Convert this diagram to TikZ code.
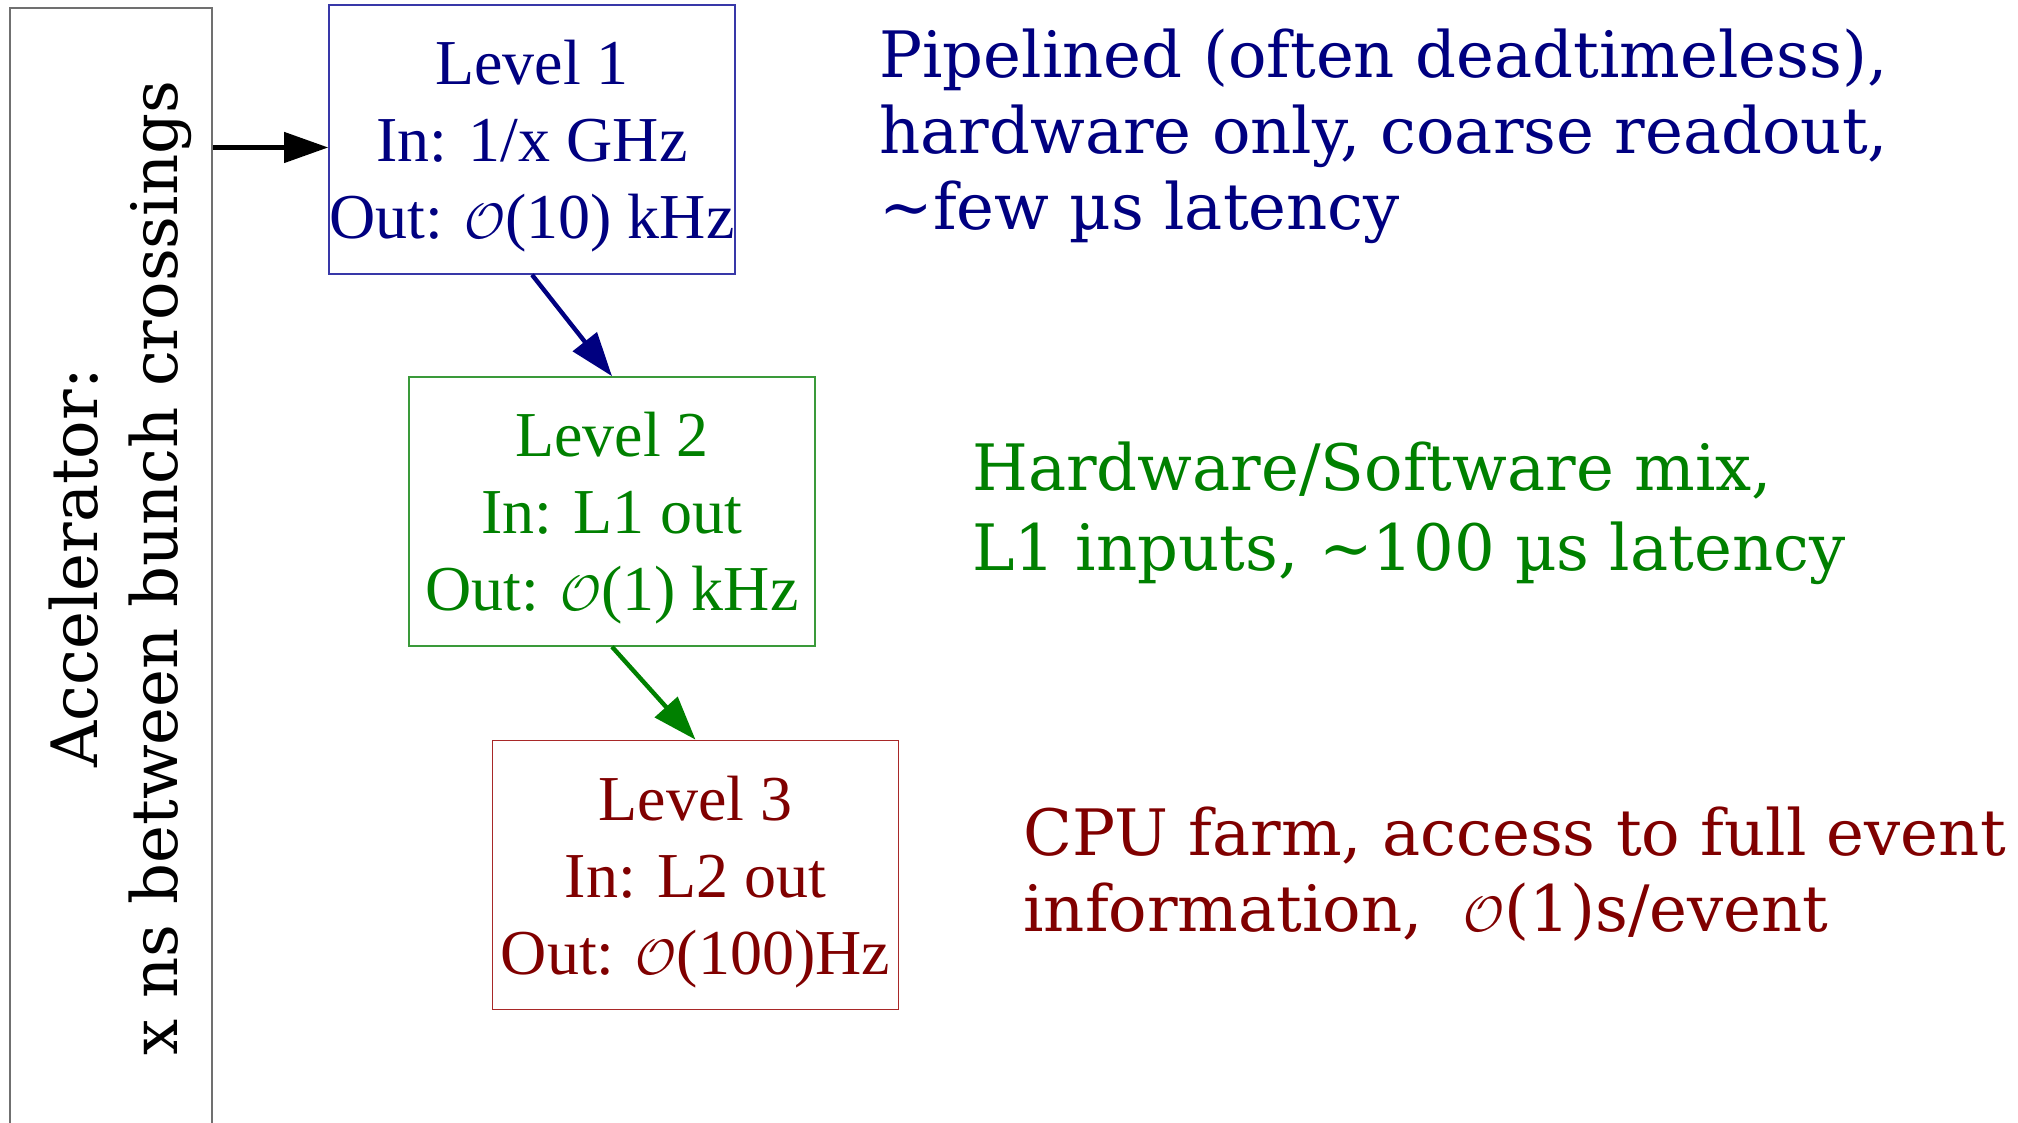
\documentclass[tikz,border=0pt]{standalone}
\usepackage{fontspec}
\setmainfont{Liberation Serif}
\newfontfamily\dvs{DejaVu Serif}
\usetikzlibrary{arrows.meta}
\definecolor{navy}{HTML}{000080}
\definecolor{dgreen}{HTML}{008000}
\definecolor{dred}{HTML}{800000}
\definecolor{bordblue}{HTML}{3838A8}
\definecolor{bordgreen}{HTML}{3A9A3A}
\definecolor{bordred}{HTML}{A82828}
\definecolor{accgray}{HTML}{707070}
\newcommand\boxstrut{\rule{0pt}{29pt}}
\begin{document}
\begin{tikzpicture}[x=0.5pt,y=0.5pt,
  lvl/.style={draw, line width=0.8pt, minimum width=203pt, minimum height=134.5pt,
    inner sep=0pt, align=center, font=\fontsize{32}{38.5}\selectfont},
  note/.style={anchor=west, inner sep=0pt, align=left, font=\dvs\fontsize{32}{38}\selectfont},
  conn/.style={-{Triangle[length=22pt,width=15pt]}, line width=2.2pt}]
\useasboundingbox (0,0) rectangle (2018,1123);
\node[draw=accgray, line width=1pt, rotate=90, minimum width=560pt, minimum height=101pt,
  inner sep=0pt, align=center, font=\dvs\fontsize{32}{40}\selectfont] (acc) at (111,555)
  {\rule{0pt}{34pt}Accelerator:\\x ns between bunch crossings};
\node[lvl, draw=bordblue, text=navy] (L1) at (532,983.5)
  {\boxstrut Level 1\\In: 1/x GHz\\Out: $\mathcal{O}$(10) kHz};
\node[lvl, draw=bordgreen, text=dgreen] (L2) at (612,611.5)
  {\boxstrut Level 2\\In: L1 out\\Out: $\mathcal{O}$(1) kHz};
\node[lvl, draw=bordred, text=dred] (L3) at (695.5,248)
  {\boxstrut Level 3\\In: L2 out\\Out: $\mathcal{O}$(100)Hz};
\coordinate (a1) at ([yshift=-4pt]L1.west);
\draw[conn, black] (acc.south |- a1) -- (a1);
\draw[conn, navy] (L1.south) -- (L2.north);
\draw[conn, dgreen] (L2.south) -- (L3.north);
\node[note, text=navy] (t1) at (879,987)
  {Pipelined (often deadtimeless),\\hardware only, coarse readout,\\\textasciitilde few µs latency};
\node[note, text=dgreen, font=\dvs\fontsize{32}{40}\selectfont] (t2) at (972,610)
  {Hardware/Software mix,\\L1 inputs, \textasciitilde 100 µs latency};
\node[note, text=dred] (t3) at (1023,249)
  {CPU farm, access to full event\\information, \ $\mathcal{O}$(1)s/event};
\end{tikzpicture}
\end{document}
